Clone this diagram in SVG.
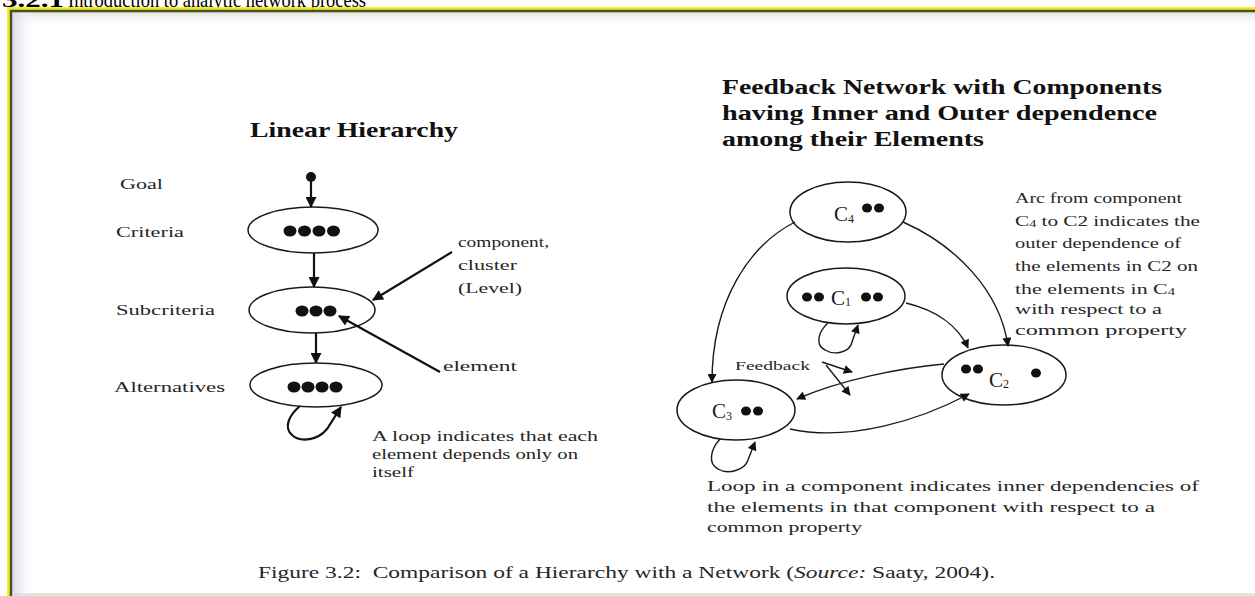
<svg xmlns="http://www.w3.org/2000/svg" width="1255" height="596" viewBox="0 0 1255 596">
<defs>
<marker id="ah" viewBox="0 0 10 10" refX="9" refY="5" markerWidth="10" markerHeight="9" markerUnits="userSpaceOnUse" orient="auto"><path d="M0,0 L10,5 L0,10 z" fill="#111"/></marker>
<marker id="ahL" viewBox="0 0 10 10" refX="9" refY="5" markerWidth="12" markerHeight="11" markerUnits="userSpaceOnUse" orient="auto"><path d="M0,0 L10,5 L0,10 z" fill="#111"/></marker>
<linearGradient id="shT" x1="0" y1="0" x2="0" y2="1"><stop offset="0" stop-color="#dfe3dc"/><stop offset="1" stop-color="#ffffff" stop-opacity="0"/></linearGradient>
<linearGradient id="shL" x1="0" y1="0" x2="1" y2="0"><stop offset="0" stop-color="#d9dbe6"/><stop offset="1" stop-color="#ffffff" stop-opacity="0"/></linearGradient>
</defs>
<style>
.t{font-family:"Liberation Serif","Times New Roman",serif;fill:#262626}
.s15{font-size:15px}
.s13{font-size:13px}
.s17{font-size:17px}
.s20{font-size:20px}
.s21{font-size:21px}
.s22{font-size:22px}
.cl{font-size:21px;fill:#1a1a1a}
.sub{font-size:12px}
.sub10{font-size:10px}
.b{font-weight:bold;fill:#111}
.k{fill:#000}
.n{fill:none;stroke:#1a1a1a;stroke-width:1.5}
.a{fill:none;stroke:#111;stroke-width:2.2}
.c{fill:none;stroke:#1a1a1a;stroke-width:1.4}
.d{fill:#111}
</style>
<rect x="0" y="0" width="1255" height="596" fill="#ffffff"/>
<g id="heading">
<text class="t b s22 k" x="2" y="7" textLength="62" lengthAdjust="spacingAndGlyphs">3.2.1</text>
<text class="t s22 k" x="68" y="7" textLength="298" lengthAdjust="spacingAndGlyphs">Introduction to analytic network process</text>
</g>
<g id="frame">
<rect x="12" y="12" width="1243" height="16" fill="url(#shT)"/>
<rect x="12" y="12" width="26" height="584" fill="url(#shL)"/>
<path d="M8.5,596 V8.5 H1255" fill="none" stroke="#f2ea00" stroke-width="2.5"/>
<path d="M11,596 V11 H1255" fill="none" stroke="#4d4d22" stroke-width="2.5"/>
<path d="M12,594.5 H1255" fill="none" stroke="#d3dbd3" stroke-width="2"/>
</g>

<g id="linear-hierarchy">
<text class="t b s21" x="250" y="137" textLength="208" lengthAdjust="spacingAndGlyphs">Linear Hierarchy</text>
</g>
<g id="goal">
<text class="t s15" x="120" y="189" textLength="43" lengthAdjust="spacingAndGlyphs">Goal</text>
<circle class="d" cx="311" cy="177" r="5"/>
</g>
<g id="criteria">
<text class="t s15" x="116" y="237" textLength="68" lengthAdjust="spacingAndGlyphs">Criteria</text>
<ellipse class="n" cx="313" cy="230" rx="65" ry="23"/>
<ellipse class="d" cx="290" cy="231" rx="6.5" ry="5.5"/>
<ellipse class="d" cx="304.5" cy="231" rx="6.5" ry="5.5"/>
<ellipse class="d" cx="319" cy="231" rx="6.5" ry="5.5"/>
<ellipse class="d" cx="333.5" cy="231" rx="6.5" ry="5.5"/>
</g>
<g id="subcriteria">
<text class="t s15" x="116" y="315" textLength="99" lengthAdjust="spacingAndGlyphs">Subcriteria</text>
<ellipse class="n" cx="312" cy="310" rx="63" ry="23"/>
<ellipse class="d" cx="302" cy="311" rx="6.5" ry="5.5"/>
<ellipse class="d" cx="316" cy="311" rx="6.5" ry="5.5"/>
<ellipse class="d" cx="330" cy="311" rx="6.5" ry="5.5"/>
</g>
<g id="alternatives">
<text class="t s15" x="114" y="392" textLength="111" lengthAdjust="spacingAndGlyphs">Alternatives</text>
<ellipse class="n" cx="316" cy="385" rx="66" ry="22"/>
<ellipse class="d" cx="294" cy="387" rx="6.5" ry="5.5"/>
<ellipse class="d" cx="308" cy="387" rx="6.5" ry="5.5"/>
<ellipse class="d" cx="322" cy="387" rx="6.5" ry="5.5"/>
<ellipse class="d" cx="336" cy="387" rx="6.5" ry="5.5"/>
</g>
<g id="component-note">
<text class="t s15" x="458" y="247" textLength="91" lengthAdjust="spacingAndGlyphs">component,</text>
<text class="t s15" x="458" y="270" textLength="59" lengthAdjust="spacingAndGlyphs">cluster</text>
<text class="t s15" x="458" y="293" textLength="64" lengthAdjust="spacingAndGlyphs">(Level)</text>
</g>
<g id="element-note">
<text class="t s15" x="443" y="371" textLength="74" lengthAdjust="spacingAndGlyphs">element</text>
</g>
<g id="loop-note">
<text class="t s15" x="372" y="441" textLength="226" lengthAdjust="spacingAndGlyphs">A loop indicates that each</text>
<text class="t s15" x="372" y="459" textLength="206" lengthAdjust="spacingAndGlyphs">element depends only on</text>
<text class="t s15" x="372" y="477" textLength="42" lengthAdjust="spacingAndGlyphs">itself</text>
</g>

<g id="network-title">
<text class="t b s20" x="722" y="94" textLength="440" lengthAdjust="spacingAndGlyphs">Feedback Network with Components</text>
<text class="t b s20" x="722" y="120" textLength="435" lengthAdjust="spacingAndGlyphs">having Inner and Outer dependence</text>
<text class="t b s20" x="722" y="146" textLength="262" lengthAdjust="spacingAndGlyphs">among their Elements</text>
</g>
<g id="C4">
<ellipse class="n" cx="848" cy="212" rx="58" ry="30"/>
<text class="t cl" x="834" y="221">C<tspan class="sub" dy="2">4</tspan></text>
<ellipse class="d" cx="867" cy="208" rx="5" ry="4.5"/>
<ellipse class="d" cx="879" cy="208" rx="5" ry="4.5"/>
</g>
<g id="C1">
<ellipse class="n" cx="846" cy="296" rx="59" ry="28"/>
<ellipse class="d" cx="807" cy="297" rx="5" ry="4.5"/>
<ellipse class="d" cx="819" cy="297" rx="5" ry="4.5"/>
<text class="t cl" x="831" y="305">C<tspan class="sub" dy="1">1</tspan></text>
<ellipse class="d" cx="866" cy="297" rx="5" ry="4.5"/>
<ellipse class="d" cx="878" cy="297" rx="5" ry="4.5"/>
</g>
<g id="C2">
<ellipse class="n" cx="1004" cy="375" rx="62" ry="30"/>
<ellipse class="d" cx="966" cy="369" rx="5" ry="4.5"/>
<ellipse class="d" cx="978" cy="369" rx="5" ry="4.5"/>
<text class="t cl" x="989" y="387">C<tspan class="sub" dy="1">2</tspan></text>
<ellipse class="d" cx="1036" cy="373" rx="5" ry="4.5"/>
</g>
<g id="C3">
<ellipse class="n" cx="736" cy="410" rx="59" ry="30"/>
<text class="t cl" x="712" y="418">C<tspan class="sub" dy="2">3</tspan></text>
<ellipse class="d" cx="746" cy="411" rx="5" ry="4.5"/>
<ellipse class="d" cx="758" cy="411" rx="5" ry="4.5"/>
</g>
<g id="feedback-label">
<text class="t s13" x="735" y="370" textLength="75" lengthAdjust="spacingAndGlyphs">Feedback</text>
</g>
<g id="arc-note">
<text class="t s15" x="1015" y="203" textLength="167" lengthAdjust="spacingAndGlyphs">Arc from component</text>
<text class="t s15" x="1015" y="226" textLength="185" lengthAdjust="spacingAndGlyphs">C<tspan class="sub10" dy="1">4</tspan><tspan dy="-1"> to C2 indicates the</tspan></text>
<text class="t s15" x="1015" y="248" textLength="166" lengthAdjust="spacingAndGlyphs">outer dependence of</text>
<text class="t s15" x="1015" y="271" textLength="183" lengthAdjust="spacingAndGlyphs">the elements in C2 on</text>
<text class="t s15" x="1015" y="294" textLength="160" lengthAdjust="spacingAndGlyphs">the elements in C<tspan class="sub10" dy="1">4</tspan></text>
<text class="t s15" x="1015" y="314" textLength="147" lengthAdjust="spacingAndGlyphs">with respect to a</text>
<text class="t s15" x="1015" y="335" textLength="172" lengthAdjust="spacingAndGlyphs">common property</text>
</g>
<g id="inner-note">
<text class="t s15" x="707" y="491" textLength="492" lengthAdjust="spacingAndGlyphs">Loop in a component indicates inner dependencies of</text>
<text class="t s15" x="707" y="512" textLength="448" lengthAdjust="spacingAndGlyphs">the elements in that component with respect to a</text>
<text class="t s15" x="707" y="532" textLength="155" lengthAdjust="spacingAndGlyphs">common property</text>
</g>
<g id="caption">
<text class="t s17" x="258" y="578" textLength="737" lengthAdjust="spacingAndGlyphs">Figure 3.2:&#160; Comparison of a Hierarchy with a Network (<tspan font-style="italic">Source:</tspan> Saaty, 2004).</text>
</g>

<g id="connectors">
<path class="a" d="M311,177 V207" marker-end="url(#ahL)"/>
<path class="a" d="M314,253 V287" marker-end="url(#ahL)"/>
<path class="a" d="M316,333 V363" marker-end="url(#ahL)"/>
<path class="a" d="M300,406 C288,416 284,428 292,435 C301,443 318,440 327,429 L341,407" marker-end="url(#ahL)"/>
<path class="a" d="M452,252 L373,300" marker-end="url(#ahL)"/>
<path class="a" d="M440,372 L339,316" marker-end="url(#ahL)"/>

<path class="c" d="M795,222 C750,245 712,300 712,382" marker-end="url(#ah)"/>
<path class="c" d="M903,222 C955,245 1000,290 1008,346" marker-end="url(#ah)"/>
<path class="c" d="M906,303 C935,310 958,325 968,348" marker-end="url(#ah)"/>
<path class="c" d="M944,364 C900,368 840,380 797,399" marker-end="url(#ah)"/>
<path class="c" d="M790,429 C850,442 920,420 969,394" marker-end="url(#ah)"/>
<path class="c" d="M828,323 C818,332 815,345 825,350 C835,356 850,352 852,342 L858,325" marker-end="url(#ah)"/>
<path class="c" d="M720,439 C710,450 708,464 718,469 C728,475 745,470 748,460 L755,442" marker-end="url(#ah)"/>
<path class="c" d="M822,362 L852,372" marker-end="url(#ah)"/>
<path class="c" d="M826,365 L850,395" marker-end="url(#ah)"/>
</g>
</svg>
